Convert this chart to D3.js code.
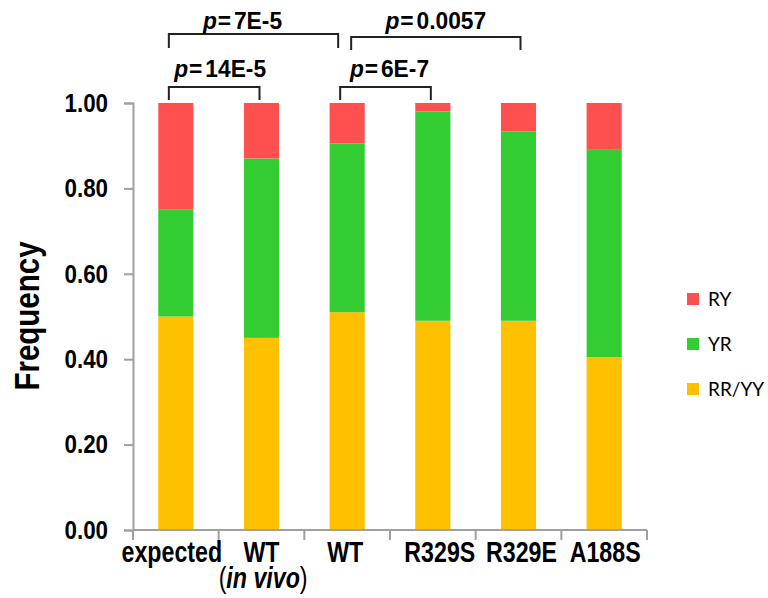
<!DOCTYPE html>
<html>
<head>
<meta charset="utf-8">
<script src="https://cdn.jsdelivr.net/npm/d3@7"></script>
<style>
  body { margin: 0; background: #fff; }
  .narrow { font-family: "Liberation Sans Narrow", "Arial Narrow", "Liberation Sans", Arial, sans-serif; font-weight: bold; }
</style>
</head>
<body>
<div id="chart"></div>
<script>
// categories along x (second line only for the in vivo WT)
const categories = ["expected", "WT", "WT", "R329S", "R329E", "A188S"];
const subLabels = ["", "in vivo", "", "", "", ""];

// stacked frequencies, bottom to top
const rrYY = [0.50, 0.45, 0.51, 0.49, 0.49, 0.405];
const yr   = [0.25, 0.42, 0.395, 0.49, 0.443, 0.487];
const ry   = [0.25, 0.13, 0.095, 0.02, 0.067, 0.108];

const seriesKeys = ["rr", "yr", "ry"];
const seriesNames = { rr: "RR/YY", yr: "YR", ry: "RY" };
const yTicks = [0, 0.2, 0.4, 0.6, 0.8, 1.0];

// significance brackets: from bar a to bar b
const brackets = [
  { a: 0, b: 2, level: "top", text: "7E-5" },
  { a: 2, b: 4, level: "top2", text: "0.0057" },
  { a: 0, b: 1, level: "low", text: "14E-5" },
  { a: 2, b: 3, level: "low", text: "6E-7" }
];

const width = 768, height = 598;
const colors = { rr: "#FFC000", yr: "#33CC33", ry: "#FF5050" };
const axisColor = "#a0a0a0";

// the original uses a condensed bold face; squeeze the regular one
// horizontally around its own x anchor
function condense(sel, f) {
  sel.each(function () {
    const t = d3.select(this);
    const ax = +t.attr("x") || 0;
    const prev = t.attr("transform") || "";
    t.attr("transform", `${prev} translate(${ax * (1 - f)},0) scale(${f},1)`);
  });
}

const rows = categories.map((c, i) => ({ id: i, rr: rrYY[i], yr: yr[i], ry: ry[i] }));

const svg = d3.select("#chart").append("svg")
  .attr("width", width)
  .attr("height", height);

const x = d3.scaleBand()
  .domain(rows.map(d => d.id))
  .range([133, 647])
  .paddingInner(0.59)
  .paddingOuter(0.295);

const y = d3.scaleLinear().domain([0, 1]).range([530, 103]);

const stacked = d3.stack().keys(seriesKeys)(rows);

// bars
svg.append("g").selectAll("g")
  .data(stacked)
  .enter().append("g")
  .attr("fill", s => colors[s.key])
  .selectAll("rect")
  .data(s => s)
  .enter().append("rect")
  .attr("x", d => x(d.data.id))
  .attr("y", d => y(d[1]))
  .attr("width", x.bandwidth())
  .attr("height", d => y(d[0]) - y(d[1]));

// y axis
const yAxis = svg.append("g")
  .attr("transform", "translate(133,0)")
  .call(d3.axisLeft(y).tickValues(yTicks).tickFormat(d3.format(".2f")).tickSize(9).tickPadding(16));
yAxis.select(".domain").attr("stroke", axisColor).attr("stroke-width", 2);
yAxis.selectAll(".tick line").attr("stroke", axisColor).attr("stroke-width", 2);
yAxis.selectAll(".tick text")
  .attr("class", "narrow")
  .attr("fill", "#000")
  .style("font-size", "26px")
  .call(condense, 0.86);

// x axis line and ticks at band boundaries
const xAxis = svg.append("g");
xAxis.append("line")
  .attr("x1", x.range()[0]).attr("x2", x.range()[1])
  .attr("y1", y(0)).attr("y2", y(0))
  .attr("stroke", axisColor).attr("stroke-width", 2);
const gap = (x.step() - x.bandwidth()) / 2;
const bounds = rows.map(d => x(d.id) - gap).concat([x.range()[1]]);
xAxis.selectAll(".xtick")
  .data(bounds)
  .enter().append("line")
  .attr("x1", d => d).attr("x2", d => d)
  .attr("y1", y(0)).attr("y2", y(0) + 10)
  .attr("stroke", axisColor).attr("stroke-width", 2);

// category labels, one text element each (two lines for the in vivo one)
const labelNudge = [-4, 0, -2, 7, 3, 1];
const xLab = xAxis.selectAll(".xlab")
  .data(rows)
  .enter().append("text")
  .attr("class", "narrow")
  .attr("text-anchor", "middle")
  .style("font-size", "29px")
  .attr("x", d => x(d.id) + x.bandwidth() / 2 + labelNudge[d.id])
  .attr("y", y(0) + 32);
xLab.append("tspan").text(d => categories[d.id]);
xLab.filter(d => subLabels[d.id] !== "").each(function (d) {
  const line = d3.select(this).append("tspan")
    .attr("x", x(d.id) + x.bandwidth() / 2 + labelNudge[d.id] + 2)
    .attr("y", y(0) + 58);
  line.append("tspan").style("font-weight", "normal").text("(");
  line.append("tspan").style("font-style", "italic").text(subLabels[d.id]);
  line.append("tspan").style("font-weight", "normal").text(")");
});
xLab.call(condense, 0.8);

// y label
svg.append("text")
  .attr("class", "narrow")
  .attr("transform", "translate(39,316) rotate(-90)")
  .attr("text-anchor", "middle")
  .style("font-size", "36px")
  .text("Frequency")
  .call(condense, 0.82);

// legend
const legend = svg.append("g");
const legendKeys = ["ry", "yr", "rr"];
legendKeys.forEach((k, i) => {
  const ly = 293 + i * 45;
  legend.append("rect")
    .attr("x", 687).attr("y", ly)
    .attr("width", 12).attr("height", 12)
    .attr("fill", colors[k]);
  legend.append("text")
    .attr("x", 708).attr("y", ly + 6)
    .attr("dy", "0.35em")
    .style("font-family", "Lato, 'Open Sans', sans-serif")
    .style("font-size", "19px")
    .text(seriesNames[k]);
});

// significance brackets
const cx = i => x(i) + x.bandwidth() / 2;
const levels = {
  low:  { top: 87, bottom: 100, textY: 77, ox1: -7, ox2: -2 },
  top:  { top: 34, bottom: 48, textY: 29, ox1: -7, ox2: -9 },
  top2: { top: 37, bottom: 50, textY: 29, ox1: 4, ox2: 2 }
};
const labelShift = [-11, 0, 6, 4];
const br = svg.append("g");
brackets.forEach((b, i) => {
  const L = levels[b.level];
  const x1 = cx(b.a) + L.ox1, x2 = cx(b.b) + L.ox2;
  br.append("path")
    .attr("d", `M${x1},${L.bottom}V${L.top}H${x2}V${L.bottom}`)
    .attr("fill", "none")
    .attr("stroke", "#222")
    .attr("stroke-width", 2);
  const t = br.append("text")
    .attr("class", "narrow")
    .attr("text-anchor", "middle")
    .attr("x", (x1 + x2) / 2 + labelShift[i])
    .attr("y", L.textY)
    .style("font-size", "24px");
  t.append("tspan").style("font-style", "italic").text("p");
  t.append("tspan").attr("dx", 1).text("=");
  t.append("tspan").attr("dx", 3).text(b.text);
  t.call(condense, 0.95);
});
</script>
</body>
</html>
